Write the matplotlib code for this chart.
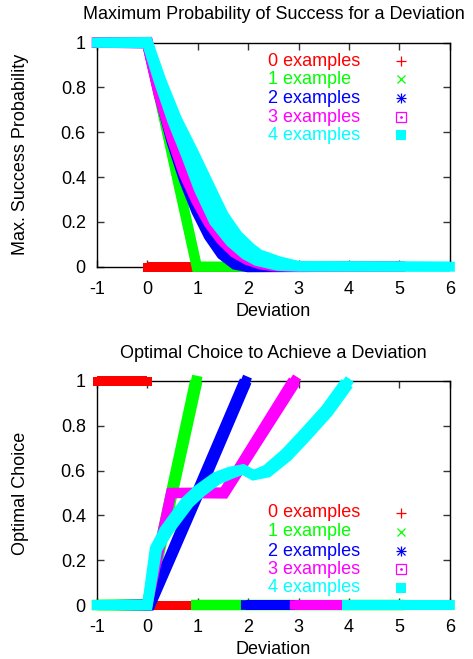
import numpy as np
import matplotlib
matplotlib.use("Agg")
import matplotlib.pyplot as plt
from matplotlib.patches import Polygon
from matplotlib.transforms import IdentityTransform

plt.rcParams['font.family'] = ['Liberation Sans', 'DejaVu Sans']
plt.rcParams['font.size'] = 13

nan = np.nan

labels = ['0 examples', '1 example', '2 examples', '3 examples', '4 examples']
colors = ['#ff0000', '#00ff00', '#0000ff', '#ff00ff', '#00ffff']

x_ticks = [-1, 0, 1, 2, 3, 4, 5, 6]
x_ticklabels = ['-1', '0', '1', '2', '3', '4', '5', '6']
y_ticks = [0, 0.2, 0.4, 0.6, 0.8, 1]
y_ticklabels = ['0', '0.2', '0.4', '0.6', '0.8', '1']

# --- top panel: max. success probability (nan = gap between points)
prob_x0 = [-1, 0, 0, 0, 5]
prob_y0 = [1, 1, nan, 0, 0]
prob_x1 = [-1, 0, 0.98, 5]
prob_y1 = [1, 1, 0, 0]
prob_x2 = [-1, 0, 0.25, 0.5, 0.75, 1.0, 1.25, 1.5, 1.75, 2.0, 5]
prob_y2 = [1, 1, 0.77, 0.56, 0.39, 0.25, 0.14, 0.06, 0.015, 0, 0]
prob_x3 = [-1, 0, 0.25, 0.5, 0.75, 1.0, 1.25, 1.5, 1.75, 2.0, 2.25, 2.5, 3.0, 5]
prob_y3 = [1, 1, 0.77, 0.58, 0.42, 0.30, 0.20, 0.125, 0.07, 0.037, 0.016, 0.005, 0, 0]
prob_x4 = [-1, 0, 0.25, 0.54, 0.84, 1.12, 1.42, 1.72, 2.0, 2.2, 2.6, 3.0, 6]
prob_y4 = [1, 1, 0.83, 0.655, 0.505, 0.357, 0.215, 0.125, 0.068, 0.04, 0.014, 0.002, 0]

# --- bottom panel: optimal choice
opt_x0 = [-1, 0, 0, 0, 5]
opt_y0 = [1, 1, nan, 0, 0]
opt_x1 = [-1, 0, 0.97, 0.97, 0.97, 5]
opt_y1 = [0, 0, 1, nan, 0, 0]
opt_x2 = [-1, 0.05, 1.0, 1.95, 1.95, 1.95, 5]
opt_y2 = [0, 0, 0.5, 1, nan, 0, 0]
opt_x3 = [-1, 0, 0.47, 1.52, 2.92, 2.92, 2.92, 5]
opt_y3 = [0, 0, 0.5, 0.5, 1, nan, 0, 0]
opt_x4 = [-1, 0, 0.17, 0.37, 0.6, 0.8, 1.04, 1.37, 1.65, 1.9, 2.1, 2.37,
          2.76, 3.16, 3.56, 3.96, 3.96, 3.96, 6]
opt_y4 = [0, 0, 0.25, 0.33, 0.40, 0.46, 0.51, 0.565, 0.59, 0.605, 0.58, 0.597,
          0.67, 0.766, 0.866, 0.99, nan, 0, 0]

# point size (px) of each series, and extra spread (px) of "4 examples" on top
top_size = [9, 9.5, 10, 10.5, 10]
bot_size = [9, 10.5, 9.5, 9.5, 10]
top_spread = [0, 0, 0, 2, 5, 8, 8, 6, 5, 4, 3, 0, 0]


def draw(ax, x, y, color, a, spread=None):
    x = np.asarray(x, float)
    y = np.asarray(y, float)
    sp = np.zeros(len(x)) if spread is None else np.asarray(spread, float)
    ax.plot(x, y, color=color, lw=a * 0.72, solid_capstyle='projecting',
            solid_joinstyle='miter', clip_on=False, zorder=3)
    # points swept along the curve look thicker on slopes: build that band
    ok = ~np.isnan(y)
    runs = np.split(np.arange(len(x)), np.where(~ok)[0])
    for r in runs:
        r = r[ok[r]]
        if len(r) < 2:
            continue
        P = ax.transData.transform(np.column_stack([x[r], y[r]]))
        seg = np.diff(P, axis=0)
        seg = seg / np.linalg.norm(seg, axis=1, keepdims=True)
        t = np.vstack([seg[:1], seg[:-1] + seg[1:], seg[-1:]])
        t = t / np.linalg.norm(t, axis=1, keepdims=True)
        n = np.column_stack([-t[:, 1], t[:, 0]])
        T = a * (np.abs(t[:, 0]) + np.abs(t[:, 1])) + sp[r]
        poly = np.vstack([P + n * T[:, None] / 2, (P - n * T[:, None] / 2)[::-1]])
        ax.add_patch(Polygon(poly, closed=True, facecolor=color, edgecolor='none',
                             transform=IdentityTransform(), clip_on=False, zorder=3))


def key(ax, ys):
    for i in range(5):
        ax.text(0.485, ys[i], labels[i], color=colors[i], transform=ax.transAxes,
                ha='left', va='center', zorder=5)
    mx = 0.861
    kw = dict(transform=ax.transAxes, clip_on=False, zorder=5, ls='none')
    ax.plot([mx], [ys[0]], marker='+', ms=7, mew=0.9, color=colors[0], **kw)
    ax.plot([mx], [ys[1]], marker='x', ms=6, mew=0.9, color=colors[1], **kw)
    ax.plot([mx], [ys[2]], marker='+', ms=7, mew=0.9, color=colors[2], **kw)
    ax.plot([mx], [ys[2]], marker='x', ms=6, mew=0.9, color=colors[2], **kw)
    ax.plot([mx], [ys[3]], marker='s', ms=6.5, mew=0.9, mfc='none', color=colors[3], **kw)
    ax.plot([mx], [ys[3]], marker='.', ms=2, color=colors[3], **kw)
    ax.plot([mx], [ys[4]], marker='s', ms=6.5, mew=0, color=colors[4], **kw)


def frame(ax, title, ylabel):
    ax.set_xlim(-1, 6)
    ax.set_ylim(0, 1)
    ax.set_xticks(x_ticks, x_ticklabels)
    ax.set_yticks(y_ticks, y_ticklabels)
    ax.tick_params(direction='in', top=True, right=True, length=5, width=1,
                   color='#333333', labelsize=13)
    ax.tick_params(axis='x', pad=10)
    ax.tick_params(axis='y', pad=8)
    for s in ax.spines.values():
        s.set_linewidth(1)
    ax.set_axisbelow(True)
    ax.text(0.5, 1.124, title, transform=ax.transAxes, ha='center', va='center')
    ax.set_xlabel('Deviation', labelpad=4)
    ax.set_ylabel(ylabel)
    ax.yaxis.set_label_coords(-0.193, 0.5)


fig = plt.figure(figsize=(4.73, 6.59), dpi=100)
ax1 = fig.add_axes([0.205, 0.5953, 0.746, 0.340])
ax2 = fig.add_axes([0.205, 0.0819, 0.746, 0.340])

frame(ax1, 'Maximum Probability of Success for a Deviation', 'Max. Success Probability')
frame(ax2, 'Optimal Choice to Achieve a Deviation', 'Optimal Choice')

top = [(prob_x0, prob_y0), (prob_x1, prob_y1), (prob_x2, prob_y2),
       (prob_x3, prob_y3), (prob_x4, prob_y4)]
bot = [(opt_x0, opt_y0), (opt_x1, opt_y1), (opt_x2, opt_y2),
       (opt_x3, opt_y3), (opt_x4, opt_y4)]

for i, (x, y) in enumerate(top):
    draw(ax1, x, y, colors[i], top_size[i], top_spread if i == 4 else None)
for i, (x, y) in enumerate(bot):
    draw(ax2, x, y, colors[i], bot_size[i])

key(ax1, [0.918, 0.837, 0.752, 0.668, 0.587])
key(ax2, [0.412, 0.327, 0.241, 0.159, 0.077])

fig.savefig('out.png', dpi=100)
